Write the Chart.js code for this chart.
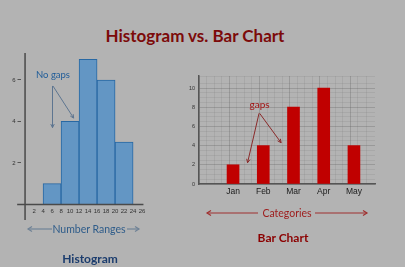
<!DOCTYPE html>
<html>
<head>
<meta charset="utf-8">
<script src="https://cdn.jsdelivr.net/npm/chart.js@4.4.0/dist/chart.umd.min.js"></script>
<style>
  html, body { margin: 0; padding: 0; }
  body { width: 405px; height: 267px; background: #b3b3b3; position: relative; overflow: hidden; font-family: Lato, 'Open Sans', sans-serif; }
  canvas { position: absolute; top: 0; }
  #hist { left: 0; }
  #bars { left: 160px; }
  svg { position: absolute; left: 0; top: 0; }
  .lbl { position: absolute; transform: translate(-50%, -50%); white-space: nowrap; }
</style>
</head>
<body>
<div class="lbl" style="left:195px;top:35px;font-size:17px;font-weight:bold;color:#7c0a0a">Histogram vs. Bar Chart</div>
<canvas id="hist" width="149" height="267"></canvas>
<canvas id="bars" width="245" height="267"></canvas>
<svg width="405" height="267">
  <g stroke="#6f8296" stroke-width="1.2" fill="none">
    <line x1="28" y1="229" x2="52" y2="229"/><polyline points="32,226.5 28,229 32,231.5"/>
    <line x1="127" y1="229" x2="139" y2="229"/><polyline points="135,226.5 139,229 135,231.5"/>
  </g>
  <g stroke="#a03030" stroke-width="1.2" fill="none">
    <line x1="207" y1="213" x2="258" y2="213"/><polyline points="211,210.5 207,213 211,215.5"/>
    <line x1="315" y1="213" x2="367" y2="213"/><polyline points="363,210.5 367,213 363,215.5"/>
  </g>
</svg>
<div class="lbl" style="left:89px;top:229px;font-size:10.5px;color:#2e5c8a">Number Ranges</div>
<div class="lbl" style="left:90px;top:258px;font-size:12px;font-weight:bold;color:#1c3d6e">Histogram</div>
<div class="lbl" style="left:287px;top:213px;font-size:10.5px;color:#9e1b1b">Categories</div>
<div class="lbl" style="left:283px;top:237px;font-size:12px;font-weight:bold;color:#8b0000">Bar Chart</div>
<script>
// histogram: bin edges and counts
const rangeEdges = [4, 8, 12, 16, 20, 24];
const rangeCounts = [1, 4, 7, 6, 3];
const histLabelTicks = [2, 4, 6];

// bar chart: categories and values
const months = ['Jan', 'Feb', 'Mar', 'Apr', 'May'];
const monthValues = [2, 4, 8, 10, 4];

const isInt = v => Math.abs(v - Math.round(v)) < 1e-6;
const MAJOR = 'rgba(80,80,80,0.26)';
const MINOR = 'rgba(80,80,80,0.10)';

// fixed axis size, no label overhang padding
const fixSize = (w, h) => s => {
  if (w != null) s.width = w;
  if (h != null) s.height = h;
  s.paddingLeft = s.paddingRight = s.paddingTop = s.paddingBottom = 0;
};

// callouts drawn in data space
const notesPlugin = {
  id: 'notes',
  afterDraw(chart, args, opts) {
    const { ctx, scales: { x, y } } = chart;
    const px = v => x.getPixelForValue(v);
    const py = v => y.getPixelForValue(v);
    ctx.save();
    if (opts.cross) {
      const c = opts.cross;
      ctx.strokeStyle = '#4a4a4a';
      ctx.lineWidth = 1.5;
      ctx.beginPath();
      ctx.moveTo(px(c.x[0]), py(0)); ctx.lineTo(px(c.x[1]), py(0));
      ctx.moveTo(px(0), py(c.y[0])); ctx.lineTo(px(0), py(c.y[1]));
      ctx.stroke();
    }
    ctx.strokeStyle = opts.arrowColor;
    ctx.lineWidth = 1;
    (opts.arrows || []).forEach(a => {
      const x1 = px(a[0][0]), y1 = py(a[0][1]), x2 = px(a[1][0]), y2 = py(a[1][1]);
      const ang = Math.atan2(y2 - y1, x2 - x1);
      ctx.beginPath();
      ctx.moveTo(x1, y1); ctx.lineTo(x2, y2);
      ctx.moveTo(x2 - 4 * Math.cos(ang - 0.45), y2 - 4 * Math.sin(ang - 0.45));
      ctx.lineTo(x2, y2);
      ctx.lineTo(x2 - 4 * Math.cos(ang + 0.45), y2 - 4 * Math.sin(ang + 0.45));
      ctx.stroke();
    });
    ctx.fillStyle = opts.color;
    ctx.font = opts.font;
    ctx.textAlign = 'center';
    ctx.textBaseline = 'middle';
    (opts.labels || []).forEach(l => ctx.fillText(l.text, px(l.x), py(l.y)));
    ctx.restore();
  }
};

const histData = rangeCounts.map((c, i) => ({ x: (rangeEdges[i] + rangeEdges[i + 1]) / 2, y: c }));

new Chart(document.getElementById('hist'), {
  type: 'bar',
  data: { datasets: [{ data: histData, backgroundColor: '#6396c4', borderColor: '#2868a3', borderWidth: 1, barThickness: 'flex', barPercentage: 1, categoryPercentage: 1 }] },
  options: {
    responsive: false, animation: false,
    layout: { padding: { top: 53, right: 1, left: 0, bottom: 0 } },
    plugins: {
      legend: { display: false }, tooltip: { enabled: false },
      notes: {
        cross: { x: [-1.75, 26.3], y: [-0.75, 7.3] },
        color: '#1f5c99', arrowColor: '#5d7590', font: '9.5px Lato, sans-serif',
        labels: [{ text: 'No gaps', x: 6.2, y: 6.24 }],
        arrows: [[[6.1, 5.71], [6.1, 3.7]], [[6.2, 5.71], [10.8, 4.16]]]
      }
    },
    scales: {
      x: {
        type: 'linear', min: 0, max: 26.3,
        grid: { display: false, drawTicks: false }, border: { display: false },
        ticks: { stepSize: 2, includeBounds: false, autoSkip: false, maxRotation: 0, padding: 3, color: '#333', font: { size: 6 },
          callback: v => (v > 0 && v % 2 === 0 ? v : '') },
        afterFit: fixSize(null, 267 - 204.4)
      },
      y: {
        min: 0, max: 7.3,
        grid: { drawOnChartArea: false, tickLength: 3, tickColor: c => (c.tick && histLabelTicks.includes(c.tick.value) ? '#555' : 'transparent') },
        border: { display: false },
        ticks: { stepSize: 2, includeBounds: false, padding: 2, color: '#333', font: { size: 6 },
          callback: v => (histLabelTicks.includes(v) ? v : '') },
        afterFit: fixSize(20.5, null)
      }
    }
  },
  plugins: [notesPlugin]
});

const barData = monthValues.map((v, i) => ({ x: i + 1, y: v }));

new Chart(document.getElementById('bars'), {
  type: 'bar',
  data: { datasets: [{ data: barData, backgroundColor: '#c00000', barThickness: 12 }] },
  options: {
    responsive: false, animation: false,
    layout: { padding: { top: 76, right: 30, left: 0, bottom: 0 } },
    plugins: {
      legend: { display: false }, tooltip: { enabled: false },
      notes: {
        color: '#a31515', arrowColor: '#8a2a2a', font: '10px Lato, sans-serif',
        labels: [{ text: 'gaps', x: 1.88, y: 8.23 }],
        arrows: [[[1.86, 7.36], [1.48, 2.22]], [[1.88, 7.36], [2.59, 4.3]]]
      }
    },
    scales: {
      x: {
        type: 'linear', min: 0, max: 5.57,
        grid: { drawTicks: false, color: c => (c.tick && isInt(c.tick.value) ? MAJOR : MINOR) },
        border: { color: '#555', width: 1.5 },
        ticks: { stepSize: 0.25, autoSkip: false, maxRotation: 0, padding: 3, color: '#1a1a1a', font: { size: 8.5 },
          callback: v => (isInt(v) && v >= 1 && v <= months.length ? months[Math.round(v) - 1] : '') },
        afterFit: fixSize(null, 267 - 184)
      },
      y: {
        min: 0, max: 11.25,
        grid: { drawTicks: false, color: c => (c.tick && isInt(c.tick.value) && Math.round(c.tick.value) % 2 === 0 ? MAJOR : MINOR) },
        border: { color: '#555', width: 1.5 },
        ticks: { stepSize: 0.5, autoSkip: false, padding: 4, color: '#333', font: { size: 5.5 },
          callback: v => (isInt(v) && Math.round(v) % 2 === 0 ? Math.round(v) : '') },
        afterFit: fixSize(39, null)
      }
    }
  },
  plugins: [notesPlugin]
});
</script>
</body>
</html>
